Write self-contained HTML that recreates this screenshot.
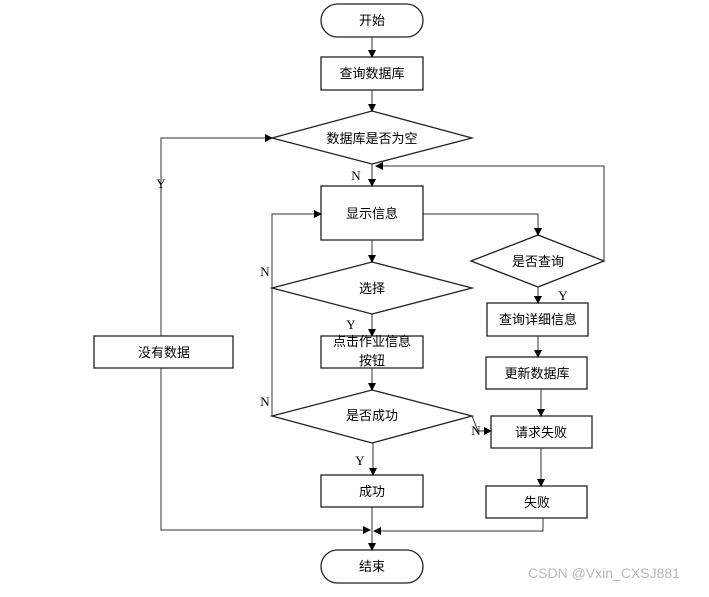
<!DOCTYPE html>
<html><head><meta charset="utf-8"><style>
body{margin:0;background:#fff}
svg text{font-family:"Liberation Serif","Noto Serif CJK SC",serif;font-size:13px}
.c{font-family:"Liberation Sans","Noto Sans CJK SC",sans-serif;font-size:13px}
</style></head><body>
<svg width="709" height="592" viewBox="0 0 709 592" xmlns="http://www.w3.org/2000/svg">
<defs><marker id="a" markerWidth="8" markerHeight="8" refX="7" refY="4" orient="auto" markerUnits="userSpaceOnUse"><path d="M0,0 L8,4 L0,8 z" fill="#000"/></marker></defs>
<g fill="none" stroke="#222" stroke-width="1.3">
<rect x="321" y="4" width="102" height="33" rx="16.5"/>
<rect x="321" y="57" width="102" height="33"/>
<polygon points="272,138 372,111 472,138 372,164"/>
<rect x="321" y="186" width="102" height="54"/>
<polygon points="471,261 538,235 604,261 538,287"/>
<polygon points="272,288 372,262 472,288 372,314"/>
<rect x="321" y="336" width="102" height="32"/>
<polygon points="272,416 372,390 472,416 372,443"/>
<rect x="321" y="475" width="102" height="32"/>
<rect x="321" y="550" width="102" height="33" rx="16.5"/>
<rect x="487" y="303" width="101" height="33"/>
<rect x="486" y="357" width="101" height="32"/>
<rect x="491" y="416" width="101" height="32"/>
<rect x="486" y="486" width="101" height="32"/>
<rect x="94" y="336" width="139" height="32"/>
</g>
<g fill="none" stroke="#333" stroke-width="1" marker-end="url(#a)">
<line x1="372" y1="37" x2="372" y2="57"/>
<line x1="372" y1="90" x2="372" y2="111"/>
<line x1="372" y1="164" x2="372" y2="186"/>
<polyline points="423,214 538,214 538,235"/>
<polyline points="604,261 604,166 376,166"/>
<line x1="372" y1="240" x2="372" y2="262"/>
<line x1="372" y1="314" x2="372" y2="336"/>
<line x1="372" y1="368" x2="372" y2="390"/>
<line x1="373" y1="443" x2="373" y2="475"/>
<line x1="372" y1="507" x2="372" y2="550"/>
<polyline points="272,416 272,214 321,214"/>
<polyline points="161,336 161,138 272,138"/>
<polyline points="161,368 161,530 370,530"/>
<polyline points="543,518 543,531 374,531"/>
<line x1="538" y1="287" x2="538" y2="303"/>
<line x1="538" y1="336" x2="538" y2="357"/>
<line x1="541" y1="389" x2="541" y2="416"/>
<line x1="541" y1="448" x2="541" y2="486"/>
<polyline points="472,416 478,431 491,431"/>
</g>
<g fill="#000" text-anchor="middle">
<text class="c" x="372" y="25">开始</text>
<text class="c" x="372" y="78">查询数据库</text>
<text class="c" x="372" y="143">数据库是否为空</text>
<text class="c" x="372" y="218">显示信息</text>
<text class="c" x="538" y="266">是否查询</text>
<text class="c" x="372" y="293">选择</text>
<text class="c" x="372" y="346">点击作业信息</text>
<text class="c" x="372" y="365">按钮</text>
<text class="c" x="372" y="420">是否成功</text>
<text class="c" x="372" y="496">成功</text>
<text class="c" x="372" y="571">结束</text>
<text class="c" x="538" y="324">查询详细信息</text>
<text class="c" x="537" y="378">更新数据库</text>
<text class="c" x="541" y="437">请求失败</text>
<text class="c" x="537" y="507">失败</text>
<text class="c" x="164" y="357">没有数据</text>
<text x="356" y="180">N</text>
<text x="161" y="188">Y</text>
<text x="265" y="276">N</text>
<text x="265" y="406">N</text>
<text x="351" y="329">Y</text>
<text x="360" y="465">Y</text>
<text x="563" y="300">Y</text>
<text x="476" y="435">N</text>
<text class="c" x="604" y="578" fill="#b8b8b8" style="font-size:14px">CSDN @Vxin_CXSJ881</text>
</g>
</svg>
</body></html>
